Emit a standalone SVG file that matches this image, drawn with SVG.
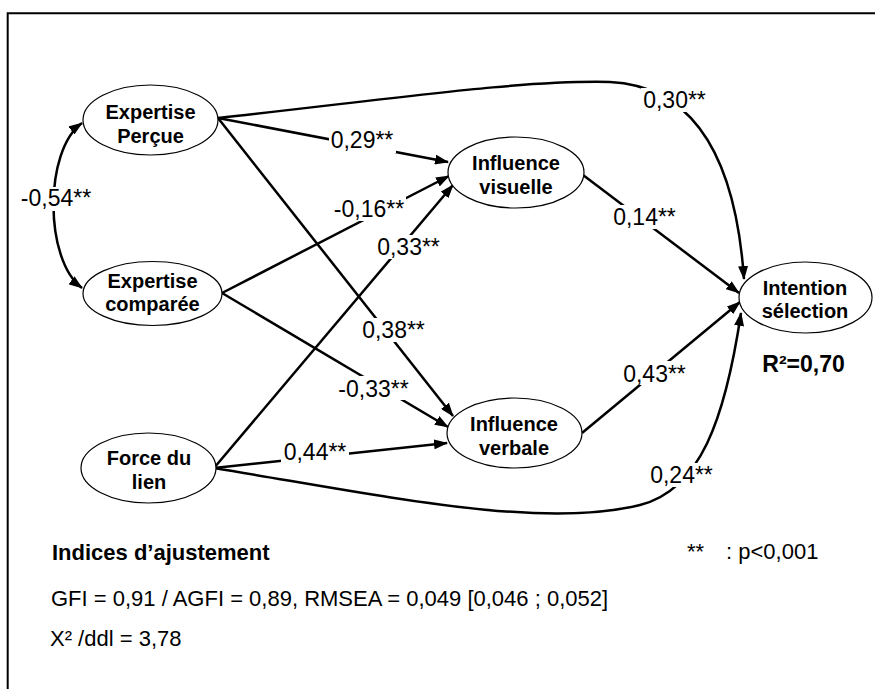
<svg xmlns="http://www.w3.org/2000/svg" width="875" height="689" viewBox="0 0 875 689">
<defs>
<marker id="arr" viewBox="0 0 14 10" markerUnits="userSpaceOnUse" markerWidth="14" markerHeight="10" refX="13" refY="5" orient="auto-start-reverse">
<path d="M0,0 L14,5 L0,10 z" fill="#000"/>
</marker>
<style>
.edge{fill:none;stroke:#000;stroke-width:2.5;marker-end:url(#arr)}
.node ellipse{fill:#fff;stroke:#000;stroke-width:1.2}
.nl{font-family:"Liberation Sans",Arial,sans-serif;font-weight:bold;font-size:20px;text-anchor:middle;fill:#000}
.lb{font-family:"Liberation Sans",Arial,sans-serif;font-size:23px;text-anchor:middle;fill:#000}
.bg{fill:#fff}
.ft{font-family:"Liberation Sans",Arial,sans-serif;font-size:22px;fill:#000}
</style>
</defs>
<rect width="875" height="689" fill="#fff"/>
<path d="M7.7,689 V13.3 H875" fill="none" stroke="#000" stroke-width="2"/>

<g id="connectors">
<path class="edge" d="M218,118 L448,162"/>
<path class="edge" d="M218,118 L453,416"/>
<path class="edge" d="M222,293 L449,176"/>
<path class="edge" d="M222,293 L448,427"/>
<path class="edge" d="M214,468 L453,185"/>
<path class="edge" d="M214,468 L447,443"/>
<path class="edge" d="M583,175 L739,293"/>
<path class="edge" d="M582,433 L740,302"/>
<path class="edge" d="M218,118 C400,98 520,80 610,82 C690,86 735,150 744,279"/>
<path class="edge" d="M214,468 C380,495 540,530 640,505 C700,490 725,420 741,313"/>
<path class="edge" d="M82,123 C44,150 44,260 82,288" marker-start="url(#arr)"/>
</g>

<g id="labels">
<rect class="bg" x="329" y="129" width="67" height="24"/><text class="lb" x="362" y="148">0,29**</text>
<rect class="bg" x="332" y="197" width="74" height="24"/><text class="lb" x="369" y="217">-0,16**</text>
<rect class="bg" x="376" y="235" width="66" height="24"/><text class="lb" x="408.5" y="255">0,33**</text>
<rect class="bg" x="641" y="88" width="67" height="24"/><text class="lb" x="674.5" y="108">0,30**</text>
<rect class="bg" x="611" y="205" width="67" height="24"/><text class="lb" x="644.5" y="225">0,14**</text>
<rect class="bg" x="360" y="318" width="67" height="24"/><text class="lb" x="393.5" y="338">0,38**</text>
<rect class="bg" x="336" y="376" width="75" height="24"/><text class="lb" x="373.5" y="397">-0,33**</text>
<rect class="bg" x="281" y="440" width="68" height="24"/><text class="lb" x="315" y="460">0,44**</text>
<rect class="bg" x="621" y="361" width="67" height="24"/><text class="lb" x="654.5" y="382">0,43**</text>
<rect class="bg" x="648" y="463" width="67" height="24"/><text class="lb" x="681.5" y="483">0,24**</text>
<rect class="bg" x="19" y="187" width="75" height="24"/><text class="lb" x="56" y="206">-0,54**</text>
</g>

<g id="node-expertise-percue" class="node">
<ellipse cx="150.5" cy="120" rx="67.5" ry="35"/>
<text class="nl" x="150.5" y="119">Expertise</text>
<text class="nl" x="150.5" y="143">Perçue</text>
</g>
<g id="node-expertise-comparee" class="node">
<ellipse cx="152.5" cy="293.5" rx="69.5" ry="32"/>
<text class="nl" x="152.5" y="288">Expertise</text>
<text class="nl" x="152.5" y="311">comparée</text>
</g>
<g id="node-force-du-lien" class="node">
<ellipse cx="148.5" cy="468" rx="67.5" ry="35"/>
<text class="nl" x="149" y="465">Force du</text>
<text class="nl" x="149" y="489">lien</text>
</g>
<g id="node-influence-visuelle" class="node">
<ellipse cx="516" cy="172.5" rx="68" ry="35.5"/>
<text class="nl" x="516" y="170">Influence</text>
<text class="nl" x="516" y="194">visuelle</text>
</g>
<g id="node-influence-verbale" class="node">
<ellipse cx="514.5" cy="433" rx="67.5" ry="35"/>
<text class="nl" x="514" y="431">Influence</text>
<text class="nl" x="514" y="455">verbale</text>
</g>
<g id="node-intention-selection" class="node">
<ellipse cx="805.5" cy="297.5" rx="66.5" ry="35.5"/>
<text class="nl" x="805" y="295">Intention</text>
<text class="nl" x="805" y="318">sélection</text>
</g>

<text x="803.5" y="372" style="font-family:'Liberation Sans',Arial,sans-serif;font-weight:bold;font-size:23px;text-anchor:middle">R²=0,70</text>

<text class="ft" x="52" y="560" style="font-weight:bold">Indices d’ajustement</text>
<text class="ft" y="559"><tspan x="687">**</tspan><tspan x="726">: p&lt;0,001</tspan></text>
<text class="ft" x="51" y="606">GFI = 0,91 / AGFI = 0,89, RMSEA = 0,049 [0,046 ; 0,052]</text>
<text class="ft" x="50" y="646">X² /ddl = 3,78</text>
</svg>
